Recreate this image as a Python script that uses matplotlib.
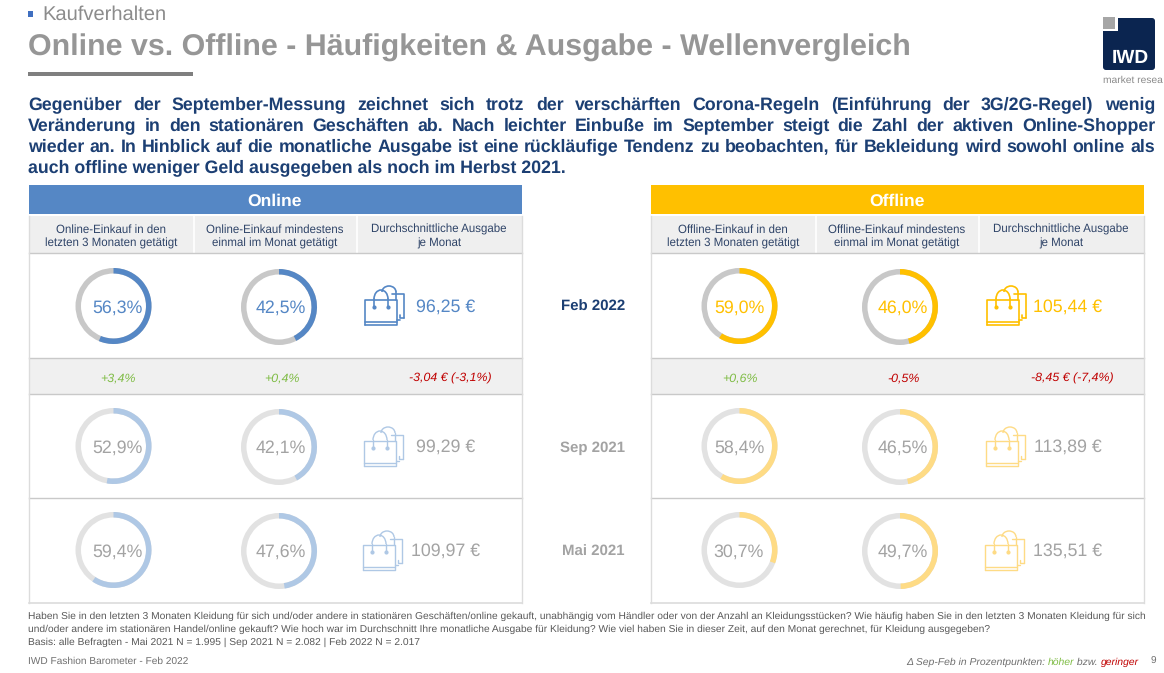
import math
import matplotlib
matplotlib.use('Agg')
import matplotlib.pyplot as plt
from matplotlib.font_manager import FontProperties
from matplotlib.patches import Wedge, Rectangle, FancyBboxPatch, Arc

plt.rcParams['font.family'] = ['Liberation Sans', 'DejaVu Sans']
plt.rcParams['text.hinting'] = 'none'

waves = ['Feb 2022', 'Sep 2021', 'Mai 2021']
online_3m = [56.3, 52.9, 59.4]
online_month = [42.5, 42.1, 47.6]
online_spend = [96.25, 99.29, 109.97]
offline_3m = [59.0, 58.4, 30.7]
offline_month = [46.0, 46.5, 49.7]
offline_spend = [105.44, 113.89, 135.51]
online_delta = ['+3,4%', '+0,4%', '-3,04 € (-3,1%)']
offline_delta = ['+0,6%', '-0,5%', '-8,45 € (-7,4%)']
online_heads = ['Online-Einkauf in den\nletzten 3 Monaten getätigt',
                'Online-Einkauf mindestens\neinmal im Monat getätigt',
                'Durchschnittliche Ausgabe\nje Monat']
offline_heads = ['Offline-Einkauf in den\nletzten 3 Monaten getätigt',
                 'Offline-Einkauf mindestens\neinmal im Monat getätigt',
                 'Durchschnittliche Ausgabe\nje Monat']
body_lines = [
    'Gegenüber der September-Messung zeichnet sich trotz der verschärften Corona-Regeln (Einführung der 3G/2G-Regel) wenig',
    'Veränderung in den stationären Geschäften ab. Nach leichter Einbuße im September steigt die Zahl der aktiven Online-Shopper',
    'wieder an. In Hinblick auf die monatliche Ausgabe ist eine rückläufige Tendenz zu beobachten, für Bekleidung wird sowohl online als',
]
body_last = 'auch offline weniger Geld ausgegeben als noch im Herbst 2021.'
foot_lines = [
    'Haben Sie in den letzten 3 Monaten Kleidung für sich und/oder andere in stationären Geschäften/online gekauft, unabhängig vom Händler oder von der Anzahl an Kleidungsstücken? Wie häufig haben Sie in den letzten 3 Monaten Kleidung für sich',
    'und/oder andere im stationären Handel/online gekauft? Wie hoch war im Durchschnitt Ihre monatliche Ausgabe für Kleidung? Wie viel haben Sie in dieser Zeit, auf den Monat gerechnet, für Kleidung ausgegeben?',
    'Basis: alle Befragten - Mai 2021 N = 1.995 | Sep 2021 N = 2.082 | Feb 2022 N = 2.017',
]

BLUE = '#5587c5'
BLUE_LIGHT = '#afc8e5'
YELLOW = '#ffc000'
YELLOW_LIGHT = '#fedb85'
GREY_TEXT = '#a3a3a3'
NAVY = '#1c3f73'
GREEN = '#7fbc45'
RED = '#c00000'

ROW_Y = [306, 446, 550]


def text_width(ax, s, **kw):
    t = ax.text(0, 0, s, **kw)
    w = t.get_window_extent(ax.figure.canvas.get_renderer()).width
    t.remove()
    return w


def word_descent(ax, s, **kw):
    prop = FontProperties(family=plt.rcParams['font.family'], size=kw['fontsize'],
                          weight=kw['fontweight'])
    renderer = ax.figure.canvas.get_renderer()
    return renderer.get_text_width_height_descent(s, prop, False)[2]


def justified(ax, s, x0, x1, y, **kw):
    words = s.split(' ')
    widths = [text_width(ax, w, **kw) for w in words]
    gap = (x1 - x0 - sum(widths)) / (len(words) - 1)
    x = x0
    for word, w in zip(words, widths):
        # agg rounds baseline + descent, so words with other descents jump a pixel otherwise
        d = word_descent(ax, word, **kw)
        ax.text(x, y + math.floor(d) + 1 - d, word, ha='left', va='baseline', **kw)
        x += w + gap


def ring(ax, cx, cy, value, color, back):
    ax.add_patch(Wedge((cx, cy), 38, 0, 360, width=5.5, fc=back, ec='none'))
    ax.add_patch(Wedge((cx, cy), 38, -90, -90 + 3.6 * value, width=5.5, fc=color, ec='none'))


def bag(ax, x, y, color):
    # x is the left edge of the icon, y its bottom edge
    lw = 1.2 if color in (BLUE, YELLOW) else 1.0
    kw = dict(color=color, lw=lw, solid_capstyle='round')
    ax.plot([x, x + 32, x + 32, x], [y - 3, y - 3, y, y], **kw)
    ax.plot([x, x, x + 32, x + 32], [y, y - 25, y - 25, y - 3], **kw)
    ax.plot([x + 27, x + 39, x + 39], [y - 31, y - 31, y - 7], **kw)
    ax.plot([x + 39, x + 35, x + 35], [y - 7, y - 7, y - 10], **kw)
    ax.plot([x + 32, x + 35], [y - 5, y - 5], **kw)
    ax.add_patch(Arc((x + 16, y - 26), 14, 18, theta1=180, theta2=360, ec=color, lw=lw))
    ax.plot([x + 9, x + 9], [y - 26, y - 18], **kw)
    ax.plot([x + 23, x + 23], [y - 26, y - 18], **kw)
    ax.plot([x + 9, x + 23], [y - 18, y - 18], ls='none', marker='o', ms=2, color=color)
    ax.add_patch(Arc((x + 24, y - 33), 14, 12, theta1=180, theta2=360, ec=color, lw=lw))
    ax.plot([x + 31, x + 31], [y - 33, y - 25], **kw)


def table(ax, x0, ring_x, title, color, light, heads, col3m, colmonth, spend, deltas):
    x1 = x0 + 493
    ax.add_patch(Rectangle((x0, 185), 493, 29, fc=color, ec='none'))
    ax.text(x0 + 246, 201, title, color='white', fontsize=12.6, fontweight='bold',
            ha='center', va='center')
    ax.add_patch(Rectangle((x0, 216), 493, 37, fc='#efefef', ec='none'))
    ax.add_patch(Rectangle((x0, 358), 493, 36, fc='#f0f0f0', ec='none'))
    for sx in [x0 + 165, x0 + 328]:
        ax.plot([sx, sx], [216, 253], color='white', lw=1.2)
    for y in [253, 358, 394, 498]:
        ax.plot([x0, x1], [y, y], color='#c9c9c9', lw=1)
    ax.plot([x0, x1], [603, 603], color='#dcdcdc', lw=1.2)
    for x in [x0, x1]:
        ax.plot([x, x], [216, 603], color='#dcdcdc', lw=1)
    for hx, head in zip([x0 + 82, x0 + 246, x0 + 410], heads):
        ax.text(hx, 236.5, head, color='#2f4468', fontsize=8.3, ha='center', va='center',
                linespacing=1.3)
    for hx, d in zip([x0 + 89, x0 + 252.5, x0 + 421], deltas):
        ax.text(hx, 378, d, color=RED if d.startswith('-') else GREEN, fontsize=8.9,
                style='italic', ha='center', va='center')
    for i, y in enumerate(ROW_Y):
        first = i == 0
        bar = color if first else light
        back = '#c8c8c8' if first else '#e2e2e2'
        label = color if first else GREY_TEXT
        ring(ax, ring_x[0], y, col3m[i], bar, back)
        ring(ax, ring_x[1], y + 1, colmonth[i], bar, back)
        ax.text(x0 + 88, y + 2, f'{col3m[i]:.1f}%'.replace('.', ','), color=label, fontsize=12.8,
                ha='center', va='center')
        ax.text(x0 + 252, y + 2, f'{colmonth[i]:.1f}%'.replace('.', ','), color=label, fontsize=12.8,
                ha='center', va='center')
        bag(ax, x0 + 336 - i, y + 19 + (i > 0) * 1, bar)
        ax.text(x0 + 417, y + 1, f'{spend[i]:.2f} €'.replace('.', ','), color=label, fontsize=12.8,
                ha='center', va='center')


def legend_note(ax, right, y):
    runs = [('Δ Sep-Feb in Prozentpunkten: ', '#6f6f6f'), ('höher', GREEN),
            (' bzw. ', '#6f6f6f'), ('geringer', RED)]
    kw = dict(fontsize=7.5, style='italic')
    x = right
    for s, c in reversed(runs):
        w = text_width(ax, s.replace(' ', '\u00a0'), **kw)
        x -= w
        ax.text(x, y, s.replace(' ', '\u00a0'), color=c, ha='left', va='baseline', **kw)


def main():
    fig = plt.figure(figsize=(11.64, 6.73), dpi=100)
    ax = fig.add_axes([0, 0, 1, 1])
    ax.set_xlim(0, 1164)
    ax.set_ylim(673, 0)
    ax.axis('off')
    fig.canvas.draw()

    ax.add_patch(Rectangle((28, 11), 5, 5.5, fc='#3f6fc0', ec='none'))
    ax.text(42, 15, 'Kaufverhalten', color='#8c8c8c', fontsize=14.5, ha='left', va='center')
    ax.text(28, 48, 'Online vs. Offline - Häufigkeiten & Ausgabe - Wellenvergleich',
            color='#969696', fontsize=21.85, fontweight='bold', ha='left', va='center')
    ax.add_patch(Rectangle((28, 72), 165, 3.5, fc='#7f7f7f', ec='none'))

    # logo
    ax.add_patch(FancyBboxPatch((1103, 18), 52, 52, boxstyle='round,pad=0,rounding_size=3',
                                fc='#0b2550', ec='none'))
    ax.add_patch(Rectangle((1102, 16), 16, 15, fc='white', ec='none'))
    ax.add_patch(Rectangle((1103, 17), 12, 11.5, fc='#a6a6a6', ec='none'))
    ax.text(1130, 58, 'IWD', color='white', fontsize=13.8, fontweight='bold', ha='center', va='center')
    ax.text(1103, 80, 'market resea', color='#8a8a8a', fontsize=7.4, ha='left', va='center')

    body_kw = dict(color=NAVY, fontsize=12.77, fontweight='bold')
    for i, line in enumerate(body_lines):
        justified(ax, line, 28, 1155, 109 + 21 * i, **body_kw)
    ax.text(28, 172, body_last, ha='left', va='baseline', **body_kw)

    table(ax, 29, [113.5, 279], 'Online', BLUE, BLUE_LIGHT, online_heads, online_3m, online_month,
          online_spend, online_delta)
    table(ax, 651, [739.5, 900], 'Offline', YELLOW, YELLOW_LIGHT, offline_heads, offline_3m,
          offline_month, offline_spend, offline_delta)

    for i, wave in enumerate(waves):
        ax.text(593, ROW_Y[i] + (1 if i == 0 else 2), wave, color=NAVY if i == 0 else GREY_TEXT,
                fontsize=10.8, fontweight='bold', ha='center', va='center')

    for i, line in enumerate(foot_lines):
        ax.text(28, 616 + 13 * i, line, color='#595959', fontsize=7.37, ha='left', va='center')
    ax.text(28, 661, 'IWD Fashion Barometer - Feb 2022', color='#6f6f6f', fontsize=7.3,
            ha='left', va='center')
    legend_note(ax, 1139, 665)
    ax.text(1153, 661, '9', color='#6f6f6f', fontsize=7.2, ha='center', va='center')

    fig.savefig('out.png', dpi=100)


if __name__ == "__main__":
    main()
